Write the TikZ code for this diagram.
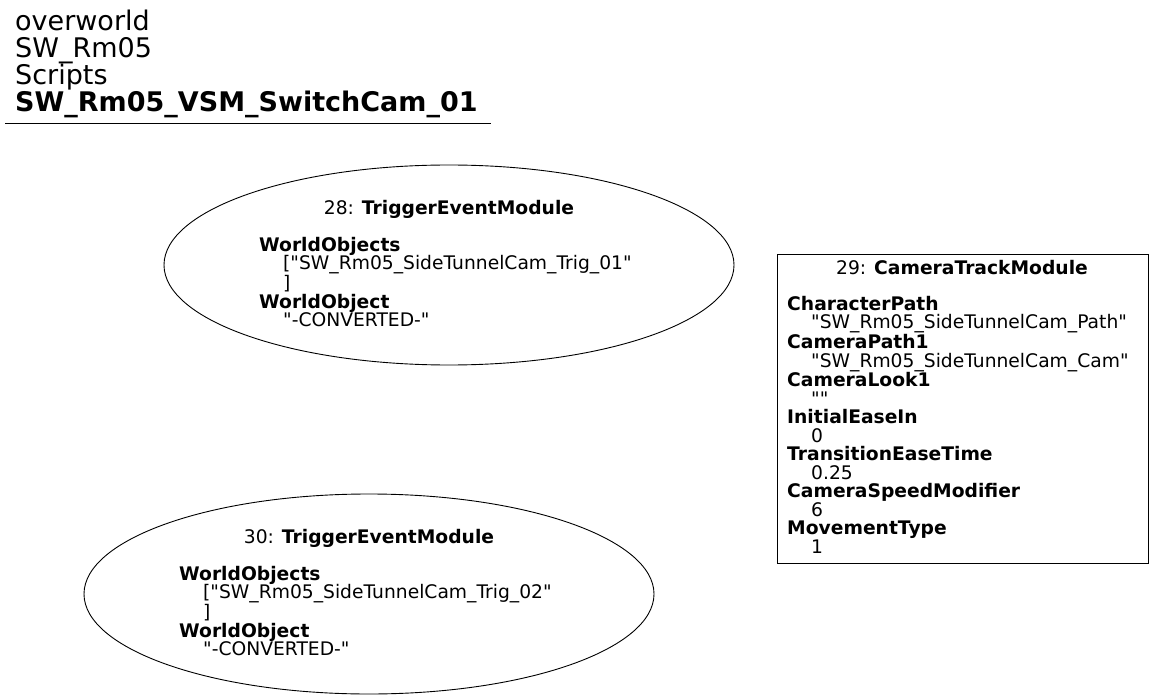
\documentclass[tikz,border=0pt]{standalone}
\usepackage{fontspec}
\setmainfont{DejaVu Sans}[Ligatures=TeXOff]
\usetikzlibrary{shapes.geometric}
\tikzset{
  body/.style={font=\fontsize{18.7}{18.5}\selectfont, inner sep=0pt, align=left},
  head/.style={font=\fontsize{18.7}{18.5}\selectfont, inner sep=0pt},
  ell/.style={draw, ellipse, line width=0.9pt, inner sep=0pt},
  box/.style={draw, rectangle, line width=0.9pt, inner sep=0pt},
  ttl/.style={font=\fontsize{27}{27}\selectfont, inner sep=0pt, align=left},
}
\newcommand{\ind}{\hspace*{24pt}}
\newcommand{\q}{\symbol{34}}
\begin{document}
\begin{tikzpicture}[x=1pt,y=-1pt]
\useasboundingbox (0,0) rectangle (1155,700);
% title
\node[ttl, anchor=north west] (title) at (15,10) {overworld\\SW\_Rm05\\Scripts\\\textbf{SW\_Rm05\_VSM\_SwitchCam\_01}};
\coordinate (ul1) at (5,123);
\coordinate (ul2) at (491,123);
\draw[line width=0.9pt] (ul1) -- (ul2);
% node 28
\node[ell, minimum width=570, minimum height=200] (n28) at (449,265) {};
\node[head] (h28) at (449,209) {28: \textbf{TriggerEventModule}};
\node[body, anchor=north west] (b28) at (259,237) {\textbf{WorldObjects}\\\ind[\q SW\_Rm05\_SideTunnelCam\_Trig\_01\q\\\ind]\\\textbf{WorldObject}\\\ind\q-CONVERTED-\q};
% node 30
\node[ell, minimum width=570, minimum height=200] (n30) at (369,594) {};
\node[head] (h30) at (369,538) {30: \textbf{TriggerEventModule}};
\node[body, anchor=north west] (b30) at (179,566) {\textbf{WorldObjects}\\\ind[\q SW\_Rm05\_SideTunnelCam\_Trig\_02\q\\\ind]\\\textbf{WorldObject}\\\ind\q-CONVERTED-\q};
% node 29
\node[box, minimum width=371, minimum height=309] (n29) at (962.5,408.5) {};
\node[head] (h29) at (962,268) {29: \textbf{CameraTrackModule}};
\node[body, anchor=north west] (b29) at (787,296) {\textbf{CharacterPath}\\\ind\q SW\_Rm05\_SideTunnelCam\_Path\q\\\textbf{CameraPath1}\\\ind\q SW\_Rm05\_SideTunnelCam\_Cam\q\\\textbf{CameraLook1}\\\ind\q\q\\\textbf{InitialEaseIn}\\\ind 0\\\textbf{TransitionEaseTime}\\\ind 0.25\\\textbf{CameraSpeedModifier}\\\ind 6\\\textbf{MovementType}\\\ind 1};
\end{tikzpicture}
\end{document}
